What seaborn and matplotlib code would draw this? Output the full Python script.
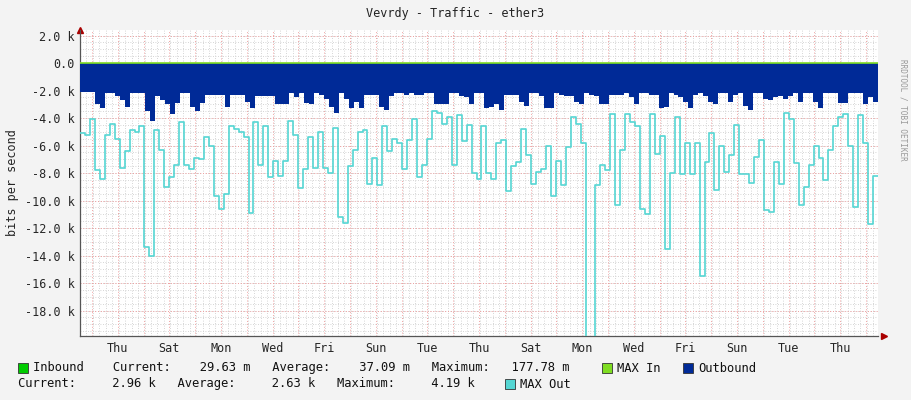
import numpy as np
import pandas as pd
import matplotlib
matplotlib.use("Agg")
import matplotlib.pyplot as plt
from matplotlib.patches import Rectangle
import seaborn as sns

# ---- data (values in k bits/s, negative = outbound) ----
max_out_k = [
 -5.1,-5.2,-4.1,-7.8,-8.4,-5.2,-4.4,-5.5,-7.6,-6.4,-4.9,-5.0,-4.6,-13.4,-14.0,-4.9,-6.3,-9.0,-8.3,-7.4,
 -4.3,-7.4,-7.7,-6.9,-7.0,-5.4,-6.0,-9.7,-10.6,-9.5,-4.6,-4.8,-5.0,-5.4,-10.9,-4.3,-7.4,-4.6,-8.3,-7.1,-8.2,
 -7.1,-4.2,-5.2,-9.1,-7.7,-5.4,-7.6,-5.0,-7.6,-8.0,-4.7,-11.2,-11.6,-7.5,-6.3,-5.0,-4.9,-8.8,-6.9,-8.9,
 -4.6,-6.4,-5.5,-5.8,-7.7,-5.6,-4.1,-8.3,-7.4,-5.5,-3.5,-3.6,-4.4,-3.9,-7.4,-3.8,-5.7,-4.5,-8.0,-8.4,
 -4.6,-8.0,-8.4,-5.8,-5.6,-9.3,-7.5,-7.2,-4.8,-6.7,-8.8,-7.9,-7.7,-6.0,-9.7,-7.1,-8.9,-6.1,-3.9,-4.4,-5.8,
 -19.9,-19.9,-8.9,-7.4,-7.8,-3.7,-10.3,-6.3,-3.7,-4.3,-4.6,-10.6,-11.0,-3.7,-6.6,-5.3,-13.5,-8.0,-3.9,-8.1,-5.8,
 -8.1,-5.8,-15.5,-7.2,-5.1,-9.2,-6.0,-7.9,-6.7,-4.5,-8.1,-8.1,-8.7,-6.8,-5.6,-10.7,-10.8,-7.2,-8.8,-3.6,
 -4.1,-7.3,-10.3,-9.0,-7.4,-6.0,-6.9,-8.5,-6.3,-4.6,-3.9,-3.7,-6.0,-10.5,-3.8,-5.8,-11.7,-8.2,
]
outbound_k = [
 -2.1,-2.1,-2.1,-3.0,-3.3,-2.2,-2.2,-2.4,-2.7,-3.2,-2.2,-2.2,-2.2,-3.5,-4.2,-2.4,-2.7,-3.0,-3.7,-2.9,-2.2,
 -2.2,-3.2,-3.5,-2.9,-2.3,-2.3,-2.3,-2.3,-3.2,-2.3,-2.3,-2.3,-2.8,-3.3,-2.4,-2.4,-2.4,-2.4,-3.0,-3.0,
 -3.0,-2.2,-2.5,-2.2,-2.9,-3.0,-2.2,-2.3,-2.6,-3.2,-3.6,-2.2,-2.6,-3.3,-2.8,-3.3,-2.3,-2.3,-2.3,-3.2,-3.4,
 -2.4,-2.2,-2.2,-2.3,-2.2,-2.3,-2.3,-2.2,-2.2,-3.0,-3.0,-3.0,-2.2,-2.2,-2.4,-2.5,-3.0,-2.2,-2.2,-3.3,
 -3.2,-3.0,-3.4,-2.3,-2.3,-2.3,-2.8,-3.1,-2.2,-2.2,-2.4,-3.3,-3.3,-2.2,-2.3,-2.4,-2.4,-2.8,-3.0,-2.2,-2.3,
 -2.4,-3.0,-3.0,-2.3,-2.3,-2.3,-2.2,-2.5,-3.0,-2.2,-2.2,-2.3,-2.3,-3.3,-3.2,-2.2,-2.3,-2.5,-2.8,-3.3,-2.3,
 -2.2,-2.4,-2.8,-3.0,-2.2,-2.2,-2.8,-2.3,-2.2,-3.1,-3.4,-2.2,-2.2,-2.6,-2.7,-2.5,-2.4,-2.6,-2.4,-2.2,-2.8,
 -2.2,-2.2,-2.8,-3.3,-2.2,-2.2,-2.2,-2.9,-2.9,-2.2,-2.2,-2.2,-3.0,-2.5,-2.8,
]
day_labels = ["Thu","Sat","Mon","Wed","Fri","Sun","Tue","Thu","Sat","Mon","Wed","Fri","Sun","Tue","Thu"]
ytick_vals = [2000, 0, -2000, -4000, -6000, -8000, -10000, -12000, -14000, -16000, -18000]
ytick_labels = ["2.0 k","0.0","-2.0 k","-4.0 k","-6.0 k","-8.0 k","-10.0 k","-12.0 k","-14.0 k","-16.0 k","-18.0 k"]

X0, X1 = -0.465, 30.465
Y0, Y1 = -19850, 2400

def xs(n):
    step = (X1 - X0) / n
    return X0 + np.arange(n + 1) * step

n1 = len(max_out_k)
n2 = len(outbound_k)
df_max = pd.DataFrame({"x": xs(n1), "y": np.array(max_out_k + [max_out_k[-1]]) * 1000})
df_out = pd.DataFrame({"x": xs(n2), "y": np.array(outbound_k + [outbound_k[-1]]) * 1000})

sns.set_style("white")
plt.rcParams["font.family"] = ["DejaVu Sans Mono"]
BG = "#F3F3F3"
fig = plt.figure(figsize=(9.11, 4.0), dpi=100, facecolor=BG)
W, H = 911, 400
ax = fig.add_axes([80 / W, 1 - 336 / H, (878 - 80) / W, (336 - 30) / H])
ax.set_facecolor("white")

C_OUT = "#002A97"
C_MAXOUT = "#55D6D3"
C_IN = "#00CC00"
C_MAXIN = "#7FDD22"

ax.fill_between(df_out["x"], df_out["y"], 0, step="post", color=C_OUT, lw=0, zorder=3)
sns.lineplot(data=df_max, x="x", y="y", drawstyle="steps-post", color=C_MAXOUT, lw=1.2, ax=ax, zorder=4, estimator=None, sort=False)
ax.axhline(0, color=C_MAXIN, lw=1.2, zorder=5)

# grid
for d in np.arange(X0, X1, 0.25):
    ax.axvline(d, color="#c8c8c8", lw=0.6, ls=(0, (1, 2)), zorder=1)
for d in range(0, 31):
    ax.axvline(d, color="#f0a0a0", lw=0.7, ls=(0, (1, 2)), zorder=2)
for v in np.arange(-19500, 2500, 500):
    ax.axhline(v, color="#c8c8c8", lw=0.6, ls=(0, (1, 2)), zorder=1)
for v in ytick_vals:
    ax.axhline(v, color="#f0a0a0", lw=0.7, ls=(0, (1, 2)), zorder=2)

ax.set_xlim(X0, X1)
ax.set_ylim(Y0, Y1)
ax.set_xticks(list(range(1, 31, 2)))
ax.set_xticklabels(day_labels, fontsize=8.5)
ax.set_yticks(ytick_vals)
ax.set_yticklabels(ytick_labels, fontsize=8.5)
ax.tick_params(axis="both", length=0, pad=4)
ax.set_xlabel("")
ax.set_ylabel("bits per second", fontsize=8.5, labelpad=4)
for s in ["top", "right"]:
    ax.spines[s].set_visible(False)
for s in ["left", "bottom"]:
    ax.spines[s].set_color("#555555")
    ax.spines[s].set_linewidth(0.9)
ax.plot([1.008], [0], marker=">", color="#aa0000", ms=4, transform=ax.transAxes, clip_on=False)
ax.plot([0], [1.0], marker="^", color="#aa0000", ms=4, transform=ax.transAxes, clip_on=False)

fig.text(455 / W, 1 - 13 / H, "Vevrdy - Traffic - ether3", ha="center", va="center", fontsize=8.5, color="#222222")
fig.text(903 / W, 1 - 110 / H, "RRDTOOL / TOBI OETIKER", rotation=270, ha="center", va="center", fontsize=5.5, color="#999999")

def box(x, y, c):
    fig.patches.append(Rectangle((x / W, 1 - (y + 5) / H), 10 / W, 10 / H, facecolor=c,
                                 edgecolor="#333333", lw=0.6, transform=fig.transFigure))

fs = 8.7
box(18, 368, C_IN)
fig.text(33 / W, 1 - 368 / H, "Inbound    Current:    29.63 m   Average:    37.09 m   Maximum:   177.78 m",
         va="center", fontsize=fs, color="#111111")
box(602, 368, C_MAXIN)
fig.text(617 / W, 1 - 368 / H, "MAX In", va="center", fontsize=fs, color="#111111")
box(683, 368, C_OUT)
fig.text(698 / W, 1 - 368 / H, "Outbound", va="center", fontsize=fs, color="#111111")
fig.text(18 / W, 1 - 384 / H, "Current:     2.96 k   Average:     2.63 k   Maximum:     4.19 k",
         va="center", fontsize=fs, color="#111111")
box(505, 384, C_MAXOUT)
fig.text(520 / W, 1 - 384 / H, "MAX Out", va="center", fontsize=fs, color="#111111")

fig.savefig("out.png", dpi=100, facecolor=BG)
